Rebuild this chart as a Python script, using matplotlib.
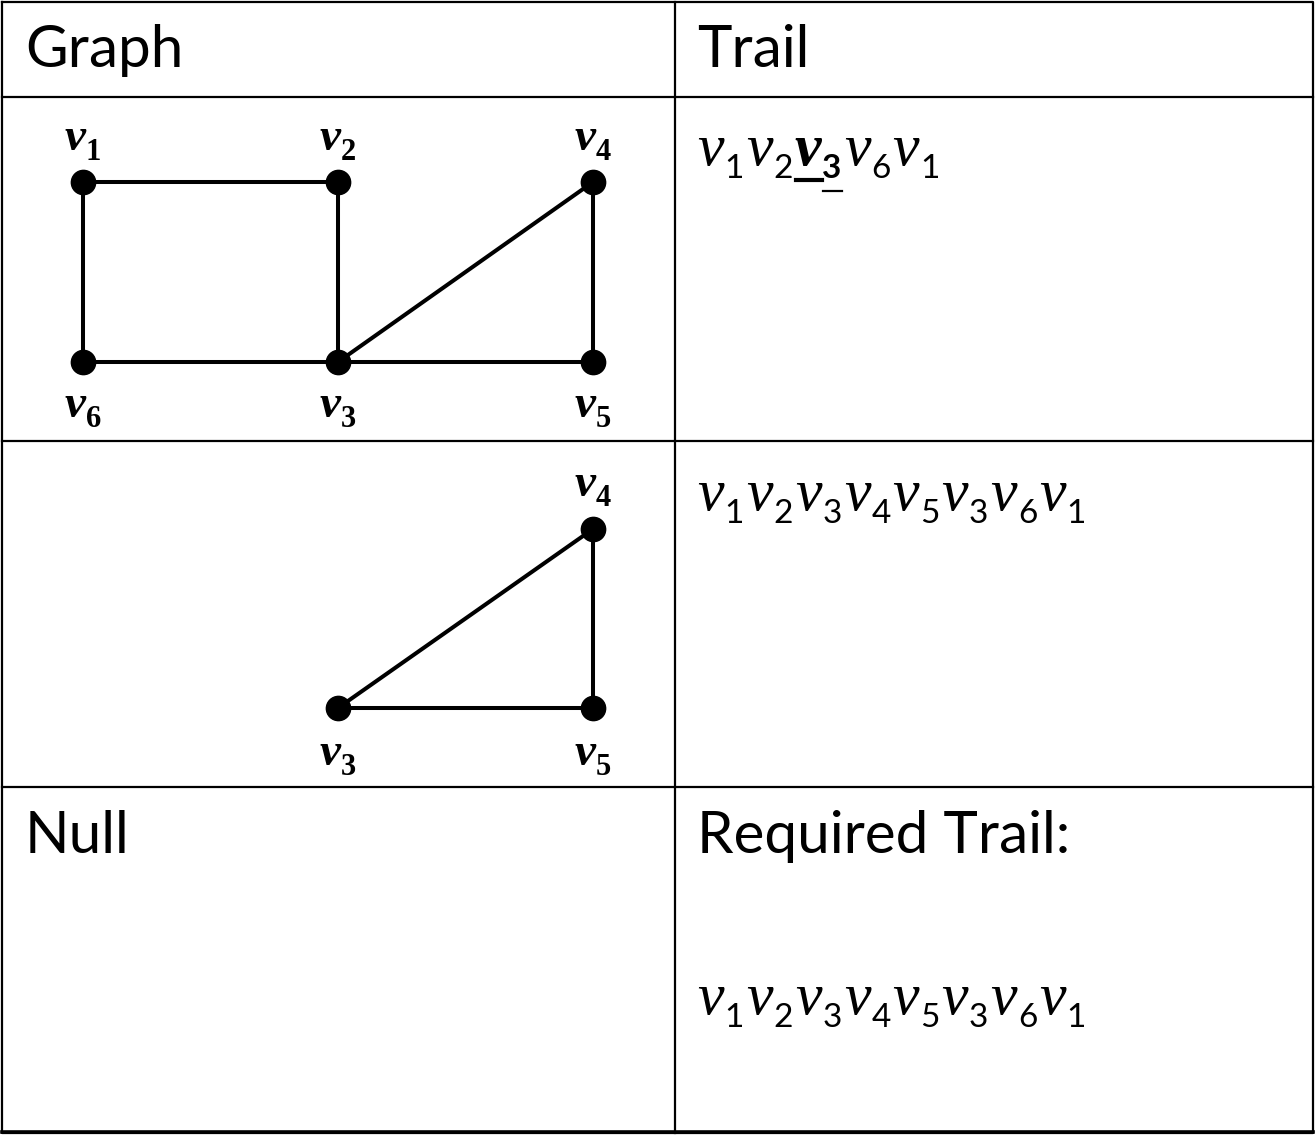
import matplotlib
matplotlib.use("Agg")
import matplotlib.pyplot as plt
from matplotlib.transforms import offset_copy

# ---------------- data ----------------
headers = ["Graph", "Trail"]
null_text = "Null"
required_text = "Required Trail:"

graph1_nodes = ["v1", "v2", "v4", "v6", "v3", "v5"]
graph1_edges = [("v1", "v2"), ("v1", "v6"), ("v2", "v3"), ("v3", "v4"),
                ("v4", "v5"), ("v6", "v3"), ("v3", "v5")]
graph2_nodes = ["v4", "v3", "v5"]
graph2_edges = [("v3", "v4"), ("v4", "v5"), ("v3", "v5")]

trail1 = [1, 2, 3, 6, 1]
trail1_bold = 2
trail2 = [1, 2, 3, 4, 5, 3, 6, 1]
trail3 = [1, 2, 3, 4, 5, 3, 6, 1]

# ---------------- layout ----------------
W, H = 1315, 1135
fig = plt.figure(figsize=(W / 100, H / 100), dpi=100)
ax = fig.add_axes([0, 0, 1, 1])
ax.set_xlim(0, W)
ax.set_ylim(H, 0)
ax.axis("off")

# grid layout of the vertices (column, row)
grid = {"v1": (0, 1), "v2": (1, 1), "v4": (2, 1),
        "v6": (0, 0), "v3": (1, 0), "v5": (2, 0)}
top_nodes = {"v1", "v2", "v4"}

lw_tab = 1.6
# table lines
ax.plot([2, W - 2, W - 2, 2, 2], [2, 2, H - 2, H - 2, 2], color="black", lw=lw_tab, solid_capstyle="projecting")
ax.plot([2, W - 2], [H - 3, H - 3], color="black", lw=2.6)
ax.plot([675, 675], [2, H - 2], color="black", lw=lw_tab)
for yy in [97, 441, 787]:
    ax.plot([2, W - 2], [yy, yy], color="black", lw=lw_tab)

head_font = dict(family="Lato", fontsize=42, va="baseline", ha="left")
ax.text(25, 67, headers[0], **head_font)
ax.text(697, 67, headers[1], **head_font)
ax.text(25, 853, null_text, **head_font)
ax.text(697, 853, required_text, **head_font)

fig.canvas.draw()
renderer = fig.canvas.get_renderer()


def width_px(t):
    return t.get_window_extent(renderer).width


def draw_trail(x0, yb, seq, bold_idx=None):
    x = x0
    for i, n in enumerate(seq):
        bold = (i == bold_idx)
        t1 = ax.text(x, yb, "v", family="Liberation Serif", style="italic",
                     weight="bold" if bold else "normal", fontsize=43,
                     va="baseline", ha="left")
        w1 = width_px(t1)
        xd = x + w1 + 1
        t2 = ax.text(xd, yb + 13, str(n), family="Lato",
                     weight="bold" if bold else "normal", fontsize=24,
                     va="baseline", ha="left")
        w2 = width_px(t2)
        if bold:
            ax.plot([x + 1, x + w1 + 1], [yb + 15, yb + 15], color="black", lw=3.0)
            ax.plot([xd + 1, xd + w2], [yb + 26, yb + 26], color="black", lw=1.6)
        x = xd + w2 + 2


draw_trail(697, 165, trail1, trail1_bold)
draw_trail(697, 510, trail2)
draw_trail(697, 1014, trail3)


def draw_graph(bounds, nodes, edges, top_off, bot_off):
    left, top, right, bottom = bounds
    g = fig.add_axes([left / W, 1 - bottom / H, (right - left) / W, (bottom - top) / H])
    g.set_xlim(0, 2)
    g.set_ylim(0, 1)
    g.axis("off")
    g.patch.set_alpha(0)
    for a, b in edges:
        xa, ya = grid[a]
        xb, yb = grid[b]
        g.plot([xa, xb], [ya, yb], color="black", lw=2.9, solid_capstyle="round",
               clip_on=False, zorder=2)
    xs = [grid[n][0] for n in nodes]
    ys = [grid[n][1] for n in nodes]
    g.plot(xs, ys, "o", color="black", ms=17.5, clip_on=False, zorder=3)
    # labels
    for n in nodes:
        x, y = grid[n]
        dy = top_off if n in top_nodes else -bot_off
        tv = g.text(x, y, "v", family="Liberation Serif", style="italic", weight="bold",
                    fontsize=34, va="baseline", ha="left", clip_on=False)
        td = g.text(x, y, n[1], family="Liberation Serif", weight="bold",
                    fontsize=22, va="baseline", ha="left", clip_on=False)
        wv = width_px(tv)
        wd = width_px(td)
        tot = wv + wd
        k = 72 / 100.0
        tv.set_transform(offset_copy(g.transData, fig=fig, x=-tot / 2 * k, y=dy * k, units="points"))
        td.set_transform(offset_copy(g.transData, fig=fig, x=(-tot / 2 + wv) * k,
                                     y=(dy - 10) * k, units="points"))


draw_graph((83, 182, 593, 362), graph1_nodes, graph1_edges, 32, 55)
draw_graph((83, 529, 593, 708), graph2_nodes, graph2_edges, 33, 57)

fig.savefig("out.png", dpi=100)
